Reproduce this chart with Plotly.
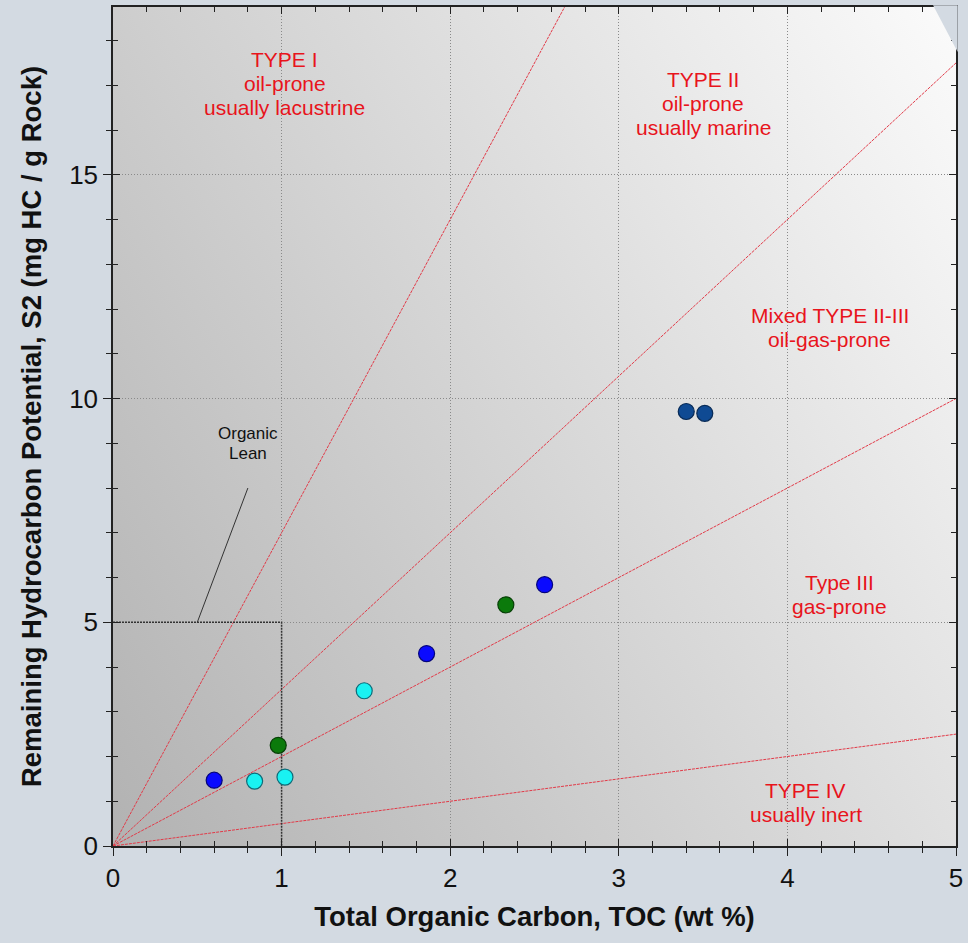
import base64
import plotly.graph_objects as go

# Sample measurements: TOC (wt %) vs S2 (mg HC / g rock)
toc = [0.60, 0.84, 1.02, 0.98, 1.49, 1.86, 2.33, 2.56, 3.40, 3.51]
s2 = [1.47, 1.45, 1.54, 2.25, 3.47, 4.30, 5.39, 5.84, 9.71, 9.67]
fill_colors = ["#0a0aff", "#19f2f2", "#19f2f2", "#0b7a0b", "#19f2f2",
               "#0a0aff", "#0b7a0b", "#0a0aff", "#0f4a93", "#0f4a93"]
edge_colors = ["#05057a", "#0d6b78", "#0d6b78", "#064006", "#0d6b78",
               "#05057a", "#064006", "#05057a", "#082a55", "#082a55"]

# Kerogen-type boundary slopes (hydrogen index / 100)
boundary_slopes = [7.0, 3.5, 2.0, 0.5]

# Field labels (one list of lines per field)
field_lines = [["TYPE I", "oil-prone", "usually lacustrine"],
               ["TYPE II", "oil-prone", "usually marine"],
               ["Mixed TYPE II-III", "oil-gas-prone"],
               ["Type III", "gas-prone"],
               ["TYPE IV", "usually inert"]]
field_x = [1.02, 3.50, 4.25, 4.31, 4.11]
field_y = [17.04, 16.59, 11.58, 5.63, 0.98]

# Organic-lean cutoff box and its leader
lean_x = [0, 1, 1]
lean_y = [5, 5, 0]
leader_x = [0.5, 0.8]
leader_y = [5, 8]

x_ticks = [0, 1, 2, 3, 4, 5]
y_ticks = [0, 5, 10, 15]
x_range = [0, 5]
y_range = [0, 18.75]

BG = "#d3dae2"
RED = "#e8141c"
FONT = "Liberation Sans, Arial, sans-serif"
LINE_STEP = 24  # px between label lines

# Diagonal grey gradient for the plotting area
svg = (
    '<svg xmlns="http://www.w3.org/2000/svg" width="100" height="100" '
    'viewBox="0 0 100 100" preserveAspectRatio="none">'
    '<defs><linearGradient id="g" x1="0" y1="1" x2="1.179" y2="0.303">'
    '<stop offset="0" stop-color="#b2b2b2"/>'
    '<stop offset="1" stop-color="#fbfbfb"/>'
    '</linearGradient></defs>'
    '<rect x="0" y="0" width="100" height="100" fill="url(#g)"/></svg>'
)
svg_uri = "data:image/svg+xml;base64," + base64.b64encode(svg.encode()).decode()

fig = go.Figure()

for m in boundary_slopes:
    fig.add_trace(go.Scatter(
        x=[0, x_range[1]], y=[0, m * x_range[1]], mode="lines",
        line=dict(color="#e23a48", width=1, dash="3px,1px"),
        hoverinfo="skip", showlegend=False))

fig.add_trace(go.Scatter(
    x=lean_x, y=lean_y, mode="lines",
    line=dict(color="#333333", width=1.5, dash="2px,1px"),
    hoverinfo="skip", showlegend=False))
fig.add_trace(go.Scatter(
    x=leader_x, y=leader_y, mode="lines",
    line=dict(color="#333333", width=1),
    hoverinfo="skip", showlegend=False))

fig.add_trace(go.Scatter(
    x=toc, y=s2, mode="markers",
    marker=dict(size=16, color=fill_colors,
                line=dict(color=edge_colors, width=1.2)),
    showlegend=False))

for lines, x, y in zip(field_lines, field_x, field_y):
    n = len(lines)
    for i, txt in enumerate(lines):
        shift = ((n - 1) / 2 - i) * LINE_STEP
        fig.add_annotation(x=x, y=y, yshift=shift, text=txt, showarrow=False,
                           font=dict(family=FONT, size=21, color=RED))

for i, txt in enumerate(["Organic", "Lean"]):
    fig.add_annotation(x=0.80, y=9.0, yshift=(0.5 - i) * 20, text=txt,
                       showarrow=False,
                       font=dict(family=FONT, size=17, color="#111111"))

# Folded corner at the top right of the frame
fig.add_shape(type="path", xref="paper", yref="paper",
              path="M 0.9728 1.002 L 1.002 1.002 L 1.002 0.9465 Z",
              fillcolor=BG, line=dict(width=0), layer="above")

axis_common = dict(showline=True, linecolor="#222222", linewidth=1.5,
                   zeroline=False)

fig.update_layout(
    width=968, height=943,
    margin=dict(l=113, r=10, t=5, b=97),
    paper_bgcolor=BG, plot_bgcolor="rgba(0,0,0,0)",
    font=dict(family=FONT, color="#111111"),
    images=[dict(source=svg_uri, xref="paper", yref="paper", x=0, y=1,
                 sizex=1, sizey=1, sizing="stretch", layer="below")],
    xaxis=dict(range=x_range, tickvals=x_ticks, ticks="outside", ticklen=8,
               tickwidth=1.2, tickcolor="#222222",
               tickfont=dict(size=26, family=FONT, color="#111111"),
               showgrid=True, gridcolor="#8a8a8a", griddash="1px,2px",
               gridwidth=1,
               minor=dict(dtick=0.2, ticks="outside", ticklen=5,
                          tickcolor="#222222", showgrid=False),
               mirror=True,
               title=dict(text="<b>Total Organic Carbon, TOC (wt %)</b>",
                          font=dict(size=27.5, family=FONT, color="#111111"),
                          standoff=15),
               **axis_common),
    yaxis=dict(range=y_range, tickvals=y_ticks, ticks="outside", ticklen=8,
               tickwidth=1.2, tickcolor="#222222",
               tickfont=dict(size=26, family=FONT, color="#111111"),
               showgrid=True, gridcolor="#8a8a8a", griddash="1px,2px",
               gridwidth=1,
               minor=dict(dtick=1, ticks="outside", ticklen=5,
                          tickcolor="#222222", showgrid=False),
               mirror=True,
               title=dict(text="<b>Remaining Hydrocarbon Potential, S2 (mg HC / g Rock)</b>",
                          font=dict(size=27.5, family=FONT, color="#111111"),
                          standoff=20),
               **axis_common),
    # Inward ticks on all four sides
    xaxis2=dict(overlaying="x", matches="x", range=x_range, tickvals=x_ticks,
                ticks="inside", ticklen=7, tickcolor="#222222",
                showticklabels=False, showgrid=False, zeroline=False,
                mirror="ticks", showline=False,
                minor=dict(dtick=0.2, ticks="inside", ticklen=5,
                           tickcolor="#222222")),
    yaxis2=dict(overlaying="y", matches="y", range=y_range, tickvals=y_ticks,
                ticks="inside", ticklen=7, tickcolor="#222222",
                showticklabels=False, showgrid=False, zeroline=False,
                mirror="ticks", showline=False,
                minor=dict(dtick=1, ticks="inside", ticklen=5,
                           tickcolor="#222222")),
)

# Invisible trace that activates the overlaid tick axes
fig.add_trace(go.Scatter(x=[None], y=[None], xaxis="x2", yaxis="y2",
                         showlegend=False, hoverinfo="skip"))

fig.write_html("out.html")
